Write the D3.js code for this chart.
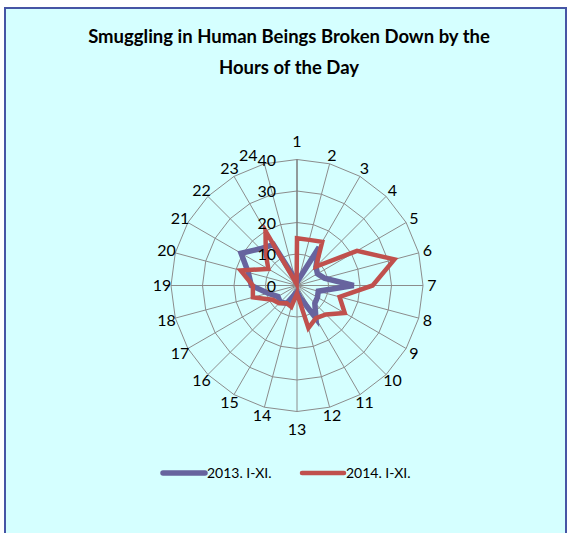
<!DOCTYPE html>
<html>
<head>
<meta charset="utf-8">
<script src="https://cdn.jsdelivr.net/npm/d3@7"></script>
<style>
  body { margin: 0; background: #fff; }
  svg { display: block; }
  text { font-family: Lato, "Open Sans", sans-serif; fill: #000; }
</style>
</head>
<body>
<svg id="chart" width="568" height="533"></svg>
<script>
var hours = ["1","2","3","4","5","6","7","8","9","10","11","12",
             "13","14","15","16","17","18","19","20","21","22","23","24"];
var values2013 = [1, 2, 14, 8.5, 7.5, 9, 18, 7, 7.5, 8, 12, 4,
                  2, 3, 6.5, 7.5, 7, 9.5, 14.5, 16, 20.5, 16.5, 15, 2];
var values2014 = [15, 15, 16, 8.5, 22, 32, 24, 14, 17.5, 13, 12, 14,
                  2.5, 7, 6.5, 8, 9, 14.5, 14, 18.5, 10.5, 14, 20, 0.5];
var ringTicks = [0, 10, 20, 30, 40];
var seriesNames = ["2013. I-XI.", "2014. I-XI."];
var seriesColors = ["#67649E", "#C0504D"];
var titleLines = ["Smuggling in Human Beings Broken Down by the", "Hours of the Day"];

var svg = d3.select('#chart');
var cx = 297, cy = 285.5, R = 126;

// chart area background + border
svg.append('rect')
  .attr('x', 5).attr('y', 8)
  .attr('width', 561).attr('height', 540)
  .attr('fill', '#D5FFFF')
  .attr('stroke', '#4655A5')
  .attr('stroke-width', 2);

// title
svg.append('text')
  .attr('x', 289).attr('y', 43)
  .attr('text-anchor', 'middle')
  .style('font-weight', 'bold')
  .style('font-size', '18.5px')
  .selectAll('tspan')
  .data(titleLines)
  .enter().append('tspan')
  .attr('x', 289)
  .attr('dy', function(d, i) { return i === 0 ? 0 : 31; })
  .text(function(d) { return d; });

var r = d3.scaleLinear().domain([0, 40]).range([0, R]);
var angle = d3.scaleBand().domain(hours).range([0, 2 * Math.PI]).padding(0);

var g = svg.append('g').attr('transform', 'translate(' + cx + ',' + cy + ')');

// rings
g.selectAll('path.ring')
  .data(ringTicks.filter(function(t) { return t > 0; }))
  .enter().append('path')
  .attr('class', 'ring')
  .attr('d', function(t) {
    return d3.lineRadial()
      .angle(function(h) { return angle(h); })
      .radius(r(t))
      .curve(d3.curveLinearClosed)(hours);
  })
  .attr('fill', 'none')
  .attr('stroke', '#8C8C8C')
  .attr('stroke-width', 1);

// spokes
g.selectAll('line.spoke')
  .data(hours)
  .enter().append('line')
  .attr('class', 'spoke')
  .attr('x1', 0).attr('y1', 0)
  .attr('x2', function(h) { return Math.sin(angle(h)) * R; })
  .attr('y2', function(h) { return -Math.cos(angle(h)) * R; })
  .attr('stroke', function(h, i) { return i === 0 ? '#7A7A7A' : '#8C8C8C'; })
  .attr('stroke-width', function(h, i) { return i === 0 ? 1.5 : 1; });

// series
var radar = d3.lineRadial()
  .angle(function(d, i) { return angle(hours[i]); })
  .radius(function(d) { return r(d); })
  .curve(d3.curveLinearClosed);

var allSeries = [values2013, values2014];
g.selectAll('path.series')
  .data(allSeries)
  .enter().append('path')
  .attr('class', 'series')
  .attr('d', function(d) { return radar(d); })
  .attr('fill', 'none')
  .attr('stroke', function(d, i) { return seriesColors[i]; })
  .attr('stroke-width', function(d, i) { return i === 0 ? 5.5 : 4.5; })
  .attr('stroke-linejoin', 'miter');

// value axis labels
var ticks = g.selectAll('text.tick')
  .data(ringTicks)
  .enter().append('text')
  .attr('class', 'tick')
  .attr('x', -21)
  .attr('y', function(t) { return -r(t) + 6; })
  .attr('text-anchor', 'end')
  .style('font-size', '16px')
  .text(function(t) { return t; });

// category labels
var cats = g.selectAll('text.cat')
  .data(hours)
  .enter().append('text')
  .attr('class', 'cat')
  .attr('x', function(h) {
    var a = angle(h);
    return Math.sin(a) * (R + 9);
  })
  .attr('y', function(h) {
    var a = angle(h);
    var extra = Math.abs(Math.sin(a)) < 0.01 ? 9 : 0;
    return -Math.cos(a) * (R + 9 + extra) + 5.5;
  })
  .attr('text-anchor', 'middle')
  .style('font-size', '16px')
  .text(function(h) { return h; });

// nudge a category label sideways when it runs into the top value label
var topTick = ticks.filter(function(t) { return t === ringTicks[ringTicks.length - 1]; }).node().getBBox();
cats.each(function() {
  var b = this.getBBox();
  var overlapY = b.y < topTick.y + topTick.height && b.y + b.height > topTick.y;
  if (overlapY && b.x < topTick.x + topTick.width && b.x + b.width > topTick.x && b.x < topTick.x) {
    var shift = b.x + b.width - topTick.x;
    d3.select(this).attr('x', +d3.select(this).attr('x') - shift);
  }
});

// legend
var legend = svg.append('g').attr('transform', 'translate(0,473)');
var legendX = [163, 302];
var items = legend.selectAll('g')
  .data(seriesNames)
  .enter().append('g')
  .attr('transform', function(d, i) { return 'translate(' + legendX[i] + ',0)'; });
items.append('line')
  .attr('x1', 0).attr('x2', 42)
  .attr('y1', 0).attr('y2', 0)
  .attr('stroke', function(d, i) { return seriesColors[i]; })
  .attr('stroke-width', function(d, i) { return i === 0 ? 5.5 : 4.5; })
  .attr('stroke-linecap', 'round');
items.append('text')
  .attr('x', 44).attr('y', 5)
  .style('font-size', '14px')
  .text(function(d) { return d; });
</script>
</body>
</html>
